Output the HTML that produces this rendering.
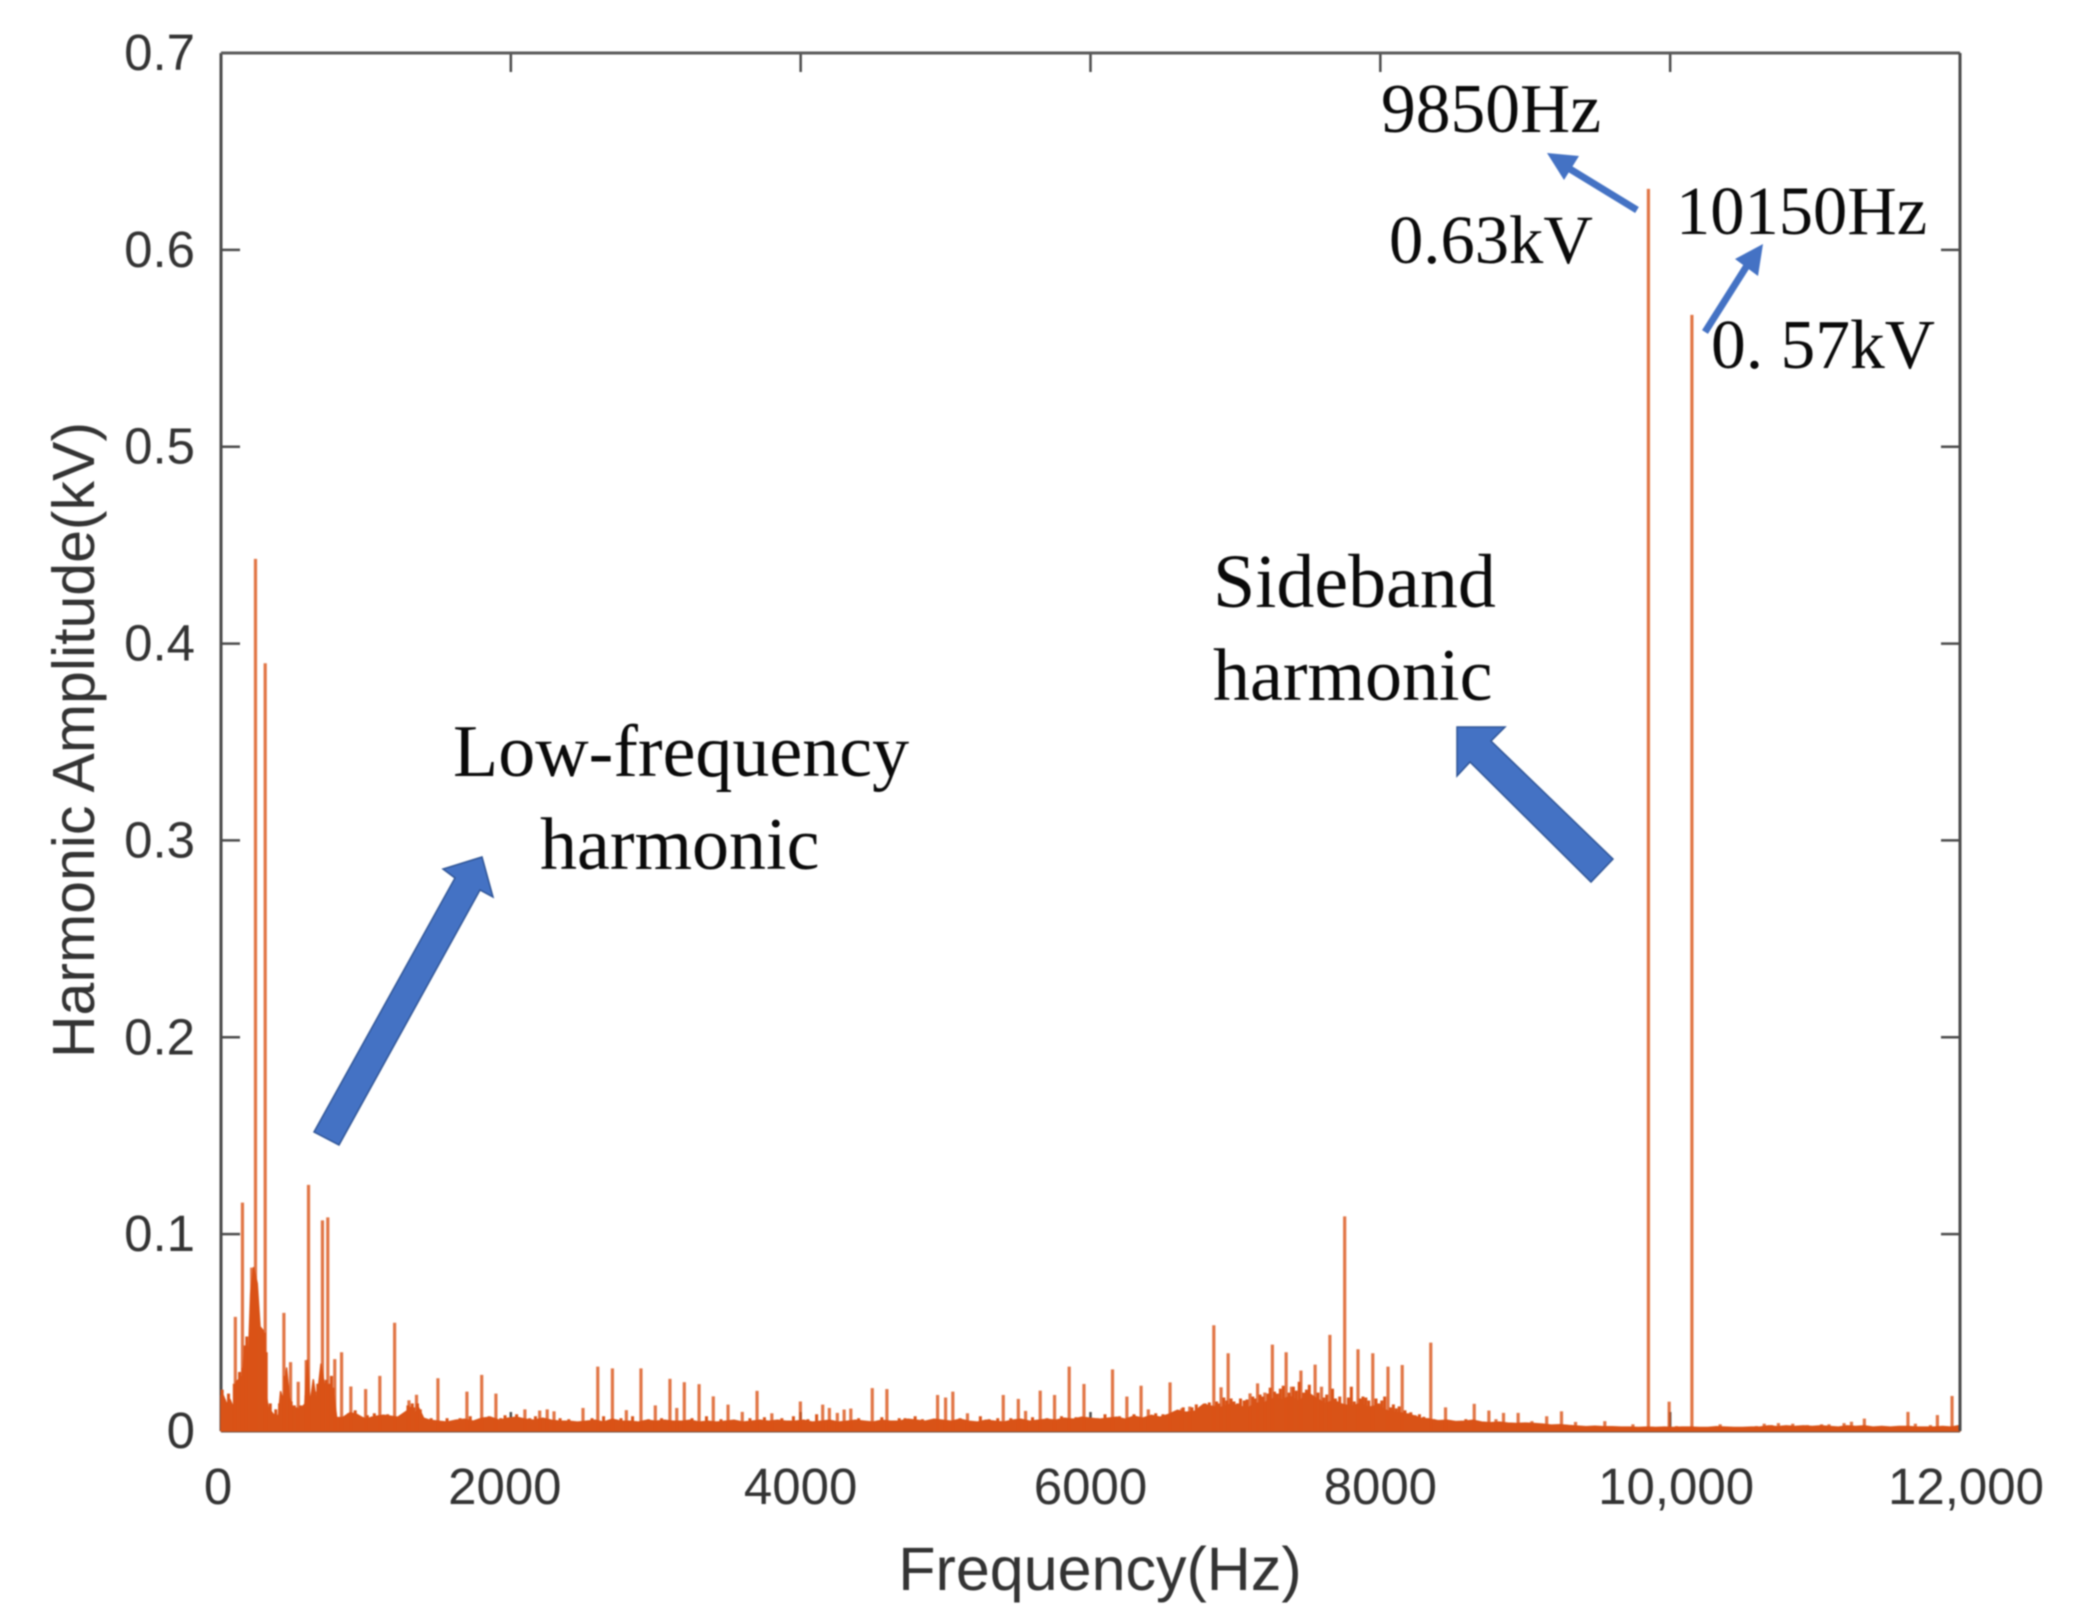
<!DOCTYPE html>
<html lang="en">
<head>
<meta charset="utf-8">
<title>Harmonic spectrum</title>
<style>
html,body{margin:0;padding:0;background:#fff;width:2078px;height:1623px;overflow:hidden}
svg{display:block;filter:blur(.9px)}
.sans{font-family:"Liberation Sans",Arial,sans-serif;fill:#333}
.serif{font-family:"Liberation Serif","Times New Roman",serif;fill:#0a0a0a}
</style>
</head>
<body>
<svg id="chart" xmlns="http://www.w3.org/2000/svg" width="2078" height="1623" viewBox="0 0 2078 1623">
  <rect x="0" y="0" width="2078" height="1623" fill="#fff"/>
  <g id="ticks"></g>
  <g id="series"></g>
  <g id="frame"></g>
  <g id="labels"></g>
  <text class="sans" x="1100" y="1590" font-size="61" text-anchor="middle">Frequency(Hz)</text>
  <text class="sans" transform="translate(94,740) rotate(-90)" font-size="59" text-anchor="middle">Harmonic Amplitude(kV)</text>

  <text class="serif" x="1381" y="132" font-size="69.5">9850Hz</text>
  <text class="serif" x="1389" y="263" font-size="68.6">0.63kV</text>
  <text class="serif" x="1676" y="234" font-size="68.5">10150Hz</text>
  <text class="serif" x="1711" y="368" font-size="69.5">0. 57kV</text>
  <text class="serif" x="453" y="776" font-size="74">Low-frequency</text>
  <text class="serif" x="540" y="869" font-size="74">harmonic</text>
  <text class="serif" x="1213" y="607" font-size="76">Sideband</text>
  <text class="serif" x="1213" y="700" font-size="74">harmonic</text>

  <polygon points="314,1132 339,1145 480,890 493,897 482,857 443,869 455,878" fill="#4472C4" stroke="#2F5597" stroke-width="1.5"/>
  <polygon points="1457,727 1505,727 1491,741 1613,859 1591,882 1470,762 1457,776" fill="#4472C4" stroke="#2F5597" stroke-width="1.5"/>
  <g>
    <line x1="1637" y1="210" x2="1565" y2="166" stroke="#4472C4" stroke-width="7"/>
    <polygon points="1547,153 1579,156 1564,180" fill="#4472C4"/>
  </g>
  <g>
    <line x1="1705" y1="332" x2="1748" y2="264" stroke="#4472C4" stroke-width="7"/>
    <polygon points="1763,244 1735,259 1758,276" fill="#4472C4"/>
  </g>
</svg>
<script>
const xTicks = [0,2000,4000,6000,8000,10000,12000];
const xTickLabels = ["0","2000","4000","6000","8000","10,000","12,000"];
const yTicks = [0,0.1,0.2,0.3,0.4,0.5,0.6,0.7];
const yTickLabels = ["0","0.1","0.2","0.3","0.4","0.5","0.6","0.7"];

const peakHz = [99,148,166,212,238,305,434,480,533,588,604,700,737,785,832,896,998,1096,1198,1297,1349,1497,1697,1799,1897,2097,2199,2251,2298,2498,2600,2701,2797,2898,2997,3098,3145,3197,3299,3397,3499,3597,3699,3801,3998,4152,4198,4253,4300,4346,4494,4595,4945,5000,5050,5151,5398,5502,5552,5653,5752,5853,5955,6152,6251,6349,6399,6549,6630,6685,6851,6901,6950,7101,7153,7203,7255,7350,7387,7452,7550,7594,7652,7754,7846,7948,8053,8151,8348,8450,8648,8749,8798,8850,8951,9046,9148,9250,9347,9549,9743,9850,9993,10044,10150,10345,10595,10649,10700,10747,10846,10947,11045,11096,11200,11251,11340,11641,11692,11796,11844,11945];
const peakAmp = [0.058,0.116,0.0435,0.083,0.443,0.39,0.06,0.035,0.025,0.036,0.125,0.107,0.1085,0.0365,0.04,0.0226,0.0213,0.028,0.055,0.0156,0.0184,0.0268,0.02,0.0285,0.019,0.011,0.0104,0.011,0.01,0.0117,0.0327,0.0318,0.0106,0.0318,0.013,0.0265,0.0117,0.0248,0.0238,0.0176,0.0134,0.0097,0.0204,0.009,0.015,0.0134,0.0117,0.0092,0.0109,0.0114,0.0218,0.0213,0.0183,0.017,0.02,0.009,0.0183,0.0163,0.0102,0.0205,0.0183,0.0327,0.0239,0.0313,0.0175,0.023,0.011,0.0247,0.0115,0.0124,0.0537,0.0222,0.0395,0.0191,0.0242,0.0195,0.0439,0.04,0.0225,0.0307,0.0337,0.0225,0.0488,0.109,0.0415,0.0395,0.0327,0.0335,0.0449,0.012,0.0138,0.0104,0.006,0.0092,0.0092,0.005,0.0075,0.01,0.0046,0.005,0.0034,0.631,0.0149,0.0025,0.567,0.0034,0.0025,0.0037,0.003,0.004,0.0037,0.003,0.0034,0.0034,0.004,0.0047,0.0063,0.0097,0.0037,0.003,0.0081,0.0178];

const minorHz = [
8,24,36,52,70,92,112,128,136,152,
178,196,218,244,258,276,284,300,312,340,
378,404,420,442,462,484,506,520,548,570,
586,626,648,668,682,704,726,744,762,774,
880,926,1010,1058,1150,1250,1270,1290,1320,1330,
1356,1375,1450,1560,1650,1720,1780,1850,1930,1960,
2040,2130,2170,2340,2400,2560,2640,2760,2840,2950,
3040,3250,3350,3450,3650,3750,3870,3950,4050,4110,
4400,4560,4680,4720,4790,4840,5100,5240,5300,5360,
5450,5600,5700,5800,5900,6050,6100,6200,6300,6450,
6500,6590,6640,6700,6730,6760,6790,6820,6870,6885,
6920,6940,6970,6990,7015,7035,7060,7080,7120,7135,
7170,7190,7225,7240,7270,7290,7310,7330,7370,7400,
7420,7440,7470,7490,7510,7530,7570,7610,7630,7670,
7690,7720,7780,7800,7820,7860,7880,7900,7920,7970,
7990,8010,8030,8070,8090,8110,8130,8170,8190,8210,
8240,8270,8300,8330,8370,8420,8480,8530,8590,8680];
const minorAmp = [
.021,.016,.014,.019,.013,.024,.021,.03,.028,.032,
.048,.04,.07,.065,.058,.052,.048,.05,.04,.014,
.011,.014,.018,.028,.02,.015,.013,.012,.013,.012,
.018,.014,.02,.024,.019,.018,.026,.024,.028,.022,
.009,.0105,.008,.009,.0085,.0075,.009,.013,.014,.012,
.014,.011,.0065,.0065,.0065,.0075,.006,.0075,.0065,.008,
.0085,.0065,.0075,.0065,.006,.0065,.0075,.0065,.0075,.006,
.0065,.0065,.0075,.006,.0065,.007,.0065,.0075,.006,.0085,
.0065,.007,.0065,.0065,.0075,.006,.0065,.0075,.006,.0065,
.0065,.007,.0065,.0075,.007,.0065,.0085,.0075,.0085,.009,
.0085,.0095,.012,.012,.0135,.0125,.014,.0145,.015,.014,
.017,.0155,.0165,.015,.014,.0165,.0155,.016,.0175,.0165,
.0185,.0175,.019,.022,.02,.019,.0215,.023,.0195,.0225,
.0205,.025,.0195,.021,.0235,.018,.0195,.017,.0185,.0215,
.0165,.0175,.017,.0225,.015,.0165,.0175,.017,.0155,.0165,
.014,.0155,.0175,.012,.0135,.0115,.0125,.0105,.009,.0095,
.008,.0085,.0072,.0065,.006,.0055,.0055,.005,.006,.005];

const noiseHz = [
0,16,40,62,85,104,120,143,165,188,
205,225,250,269,292,315,326,361,396,411,
430,453,471,494,526,556,579,596,614,637,
660,690,717,752,780,798,840,890,936,970,
1005,1040,1074,1120,1170,1220,1280,1310,1340,1363,
1398,1440,1500,1560,1620,1680,1740,1800,1860,1920,
1980,2040,2100,2160,2220,2280,2340,2400,2460,2520,
2580,2640,2700,2760,2820,2880,2940,3000,3060,3120,
3180,3240,3300,3360,3420,3480,3540,3600,3660,3720,
3780,3840,3900,3960,4020,4080,4140,4200,4260,4320,
4380,4440,4500,4560,4620,4680,4740,4800,4860,4920,
4980,5040,5100,5160,5220,5280,5340,5400,5460,5520,
5580,5640,5700,5760,5820,5880,5940,6000,6060,6120,
6180,6240,6300,6360,6420,6480,6540,6600,6660,6720,
6780,6840,6900,6960,7020,7080,7140,7200,7260,7320,
7380,7440,7500,7560,7620,7680,7740,7800,7860,7920,
7980,8040,8100,8160,8220,8280,8340,8400,8460,8520,
8580,8640,8700,8760,8820,8880,8940,9000,9060,9120,
9180,9240,9300,9360,9420,9480,9540,9600,9660,9720,
9780,9840,9900,9960,10020,10080,10140,10200,10260,10320,
10380,10440,10500,10560,10620,10680,10740,10800,10860,10920,
10980,11040,11100,11160,11220,11280,11340,11400,11460,11520,
11580,11640,11700,11760,11820,11880,11940,12000];
const noiseAmp = [
.018,.018,.0136,.016,.012,.025,.026,.023,.043,.034,
.07,.083,.075,.053,.051,.017,.012,.0085,.0076,.02,
.015,.032,.017,.012,.011,.012,.0136,.036,.0136,.026,
.014,.034,.022,.022,.018,.0068,.0068,.0093,.0085,.007,
.006,.007,.0075,.008,.0075,.007,.01,.012,.009,.012,
.0065,.0055,.005,.0045,.0055,.006,.005,.0065,.007,.0055,
.0065,.007,.006,.0055,.0065,.0055,.005,.005,.0045,.005,
.0055,.0045,.006,.005,.005,.0045,.0055,.005,.0055,.005,
.005,.0055,.0045,.005,.0045,.005,.0055,.0045,.005,.0055,
.005,.0055,.005,.005,.0055,.0045,.005,.0055,.0045,.005,
.0055,.005,.0045,.0055,.005,.005,.006,.0055,.005,.006,
.0055,.005,.006,.005,.0045,.0055,.005,.0045,.0055,.006,
.005,.0055,.006,.0055,.0065,.006,.007,.0065,.006,.0065,
.007,.006,.0075,.0065,.008,.007,.0085,.0105,.0095,.01,
.0135,.0125,.012,.0135,.013,.0115,.014,.0145,.0165,.016,
.0175,.015,.0195,.0165,.014,.0155,.0135,.0125,.014,.012,
.013,.0105,.0095,.009,.008,.0065,.006,.0052,.0055,.0048,
.005,.0055,.0045,.0042,.0045,.004,.0038,.004,.0038,.0035,
.003,.0032,.0028,.0025,.0022,.0024,.0022,.0022,.002,.002,
.0018,.002,.0018,.002,.0018,.002,.002,.0018,.0018,.0022,
.002,.0018,.0018,.002,.002,.0026,.0022,.0026,.0023,.0026,
.0023,.0026,.0023,.002,.0026,.0023,.0026,.002,.0023,.002,
.0023,.0023,.002,.002,.002,.0023,.002,.0028];

const NS = 'http://www.w3.org/2000/svg';
const plotLeft = 221, plotRight = 1960, plotTop = 53, plotBottom = 1431;
const xMax = 12000, yMax = 0.7;
function xScale(hz){ return plotLeft + (hz / xMax) * (plotRight - plotLeft); }
function yScale(kv){ return plotBottom - (kv / yMax) * (plotBottom - plotTop); }
function make(tag, attrs, parent){
  const el = document.createElementNS(NS, tag);
  for (const k in attrs) el.setAttribute(k, attrs[k]);
  parent.appendChild(el);
  return el;
}
const ticksG = document.getElementById('ticks');
const seriesG = document.getElementById('series');
const frameG = document.getElementById('frame');
const labelsG = document.getElementById('labels');
const axisColor = '#4a4a4a';
const tickLen = 19;

xTicks.forEach(function(v, i){
  const x = xScale(v);
  if (i > 0 && i < xTicks.length - 1) {
    const b = make('line', {x1:x, x2:x, y1:plotBottom, y2:plotBottom - tickLen, stroke:axisColor, 'stroke-width':2.5}, ticksG);
    
    
    const t = make('line', {x1:x, x2:x, y1:plotTop, y2:plotTop + tickLen, stroke:axisColor, 'stroke-width':2.5}, ticksG);
    
    
  }
  const nudge = v === 2000 ? -6 : (v >= 10000 ? 6 : (v === 0 ? -3 : 0));
  const lab = make('text', {x:x + nudge, y:1504, 'font-size':51, 'text-anchor':'middle', 'class':'sans'}, labelsG);
  
  
  lab.textContent = xTickLabels[i];
});
yTicks.forEach(function(v, i){
  const y = yScale(v);
  if (i > 0 && i < yTicks.length - 1) {
    const l = make('line', {x1:plotLeft, x2:plotLeft + tickLen, y1:y, y2:y, stroke:axisColor, 'stroke-width':2.5}, ticksG);
    
    
    const r = make('line', {x1:plotRight, x2:plotRight - tickLen, y1:y, y2:y, stroke:axisColor, 'stroke-width':2.5}, ticksG);
    
    
  }
  const lab = make('text', {x:195, y:y + 17, 'font-size':51, 'text-anchor':'end', 'class':'sans'}, labelsG);
  
  
  lab.textContent = yTickLabels[i];
});

const frameLeft = make('line', {x1:plotLeft, x2:plotLeft, y1:plotTop, y2:plotBottom, stroke:axisColor, 'stroke-width':3}, ticksG);


const frameBottom = make('line', {x1:plotLeft, x2:plotRight, y1:plotBottom, y2:plotBottom, stroke:axisColor, 'stroke-width':3}, ticksG);


const frameTop = make('line', {x1:plotLeft, x2:plotRight, y1:plotTop, y2:plotTop, stroke:'#5a5a5a', 'stroke-width':3}, frameG);


const frameRight = make('line', {x1:plotRight, x2:plotRight, y1:plotTop, y2:plotBottom, stroke:axisColor, 'stroke-width':3}, frameG);



let d = 'M' + xScale(noiseHz[0]) + ' ' + yScale(0);
noiseHz.forEach(function(hz, i){
  d += 'L' + xScale(hz).toFixed(1) + ' ' + yScale(noiseAmp[i]).toFixed(1);
});
d += 'L' + xScale(noiseHz[noiseHz.length - 1]) + ' ' + yScale(0) + 'Z';
const floorPath = make('path', {d:d, fill:'#D95317', stroke:'#D95317', 'stroke-width':1.5, 'stroke-linejoin':'round'}, seriesG);



minorHz.forEach(function(hz, i){
  const x = xScale(hz);
  const spike = make('line', {x1:x, x2:x, y1:yScale(0), y2:yScale(minorAmp[i]), stroke:'#D95317', 'stroke-width':3}, seriesG);
  
  
});

peakHz.forEach(function(hz, i){
  const x = xScale(hz);
  const stem = make('line', {x1:x, x2:x, y1:yScale(0), y2:yScale(peakAmp[i]), stroke:'#D95317', 'stroke-width':3.2, 'stroke-opacity':0.8}, seriesG);
  
  
});
</script>
</body>
</html>
